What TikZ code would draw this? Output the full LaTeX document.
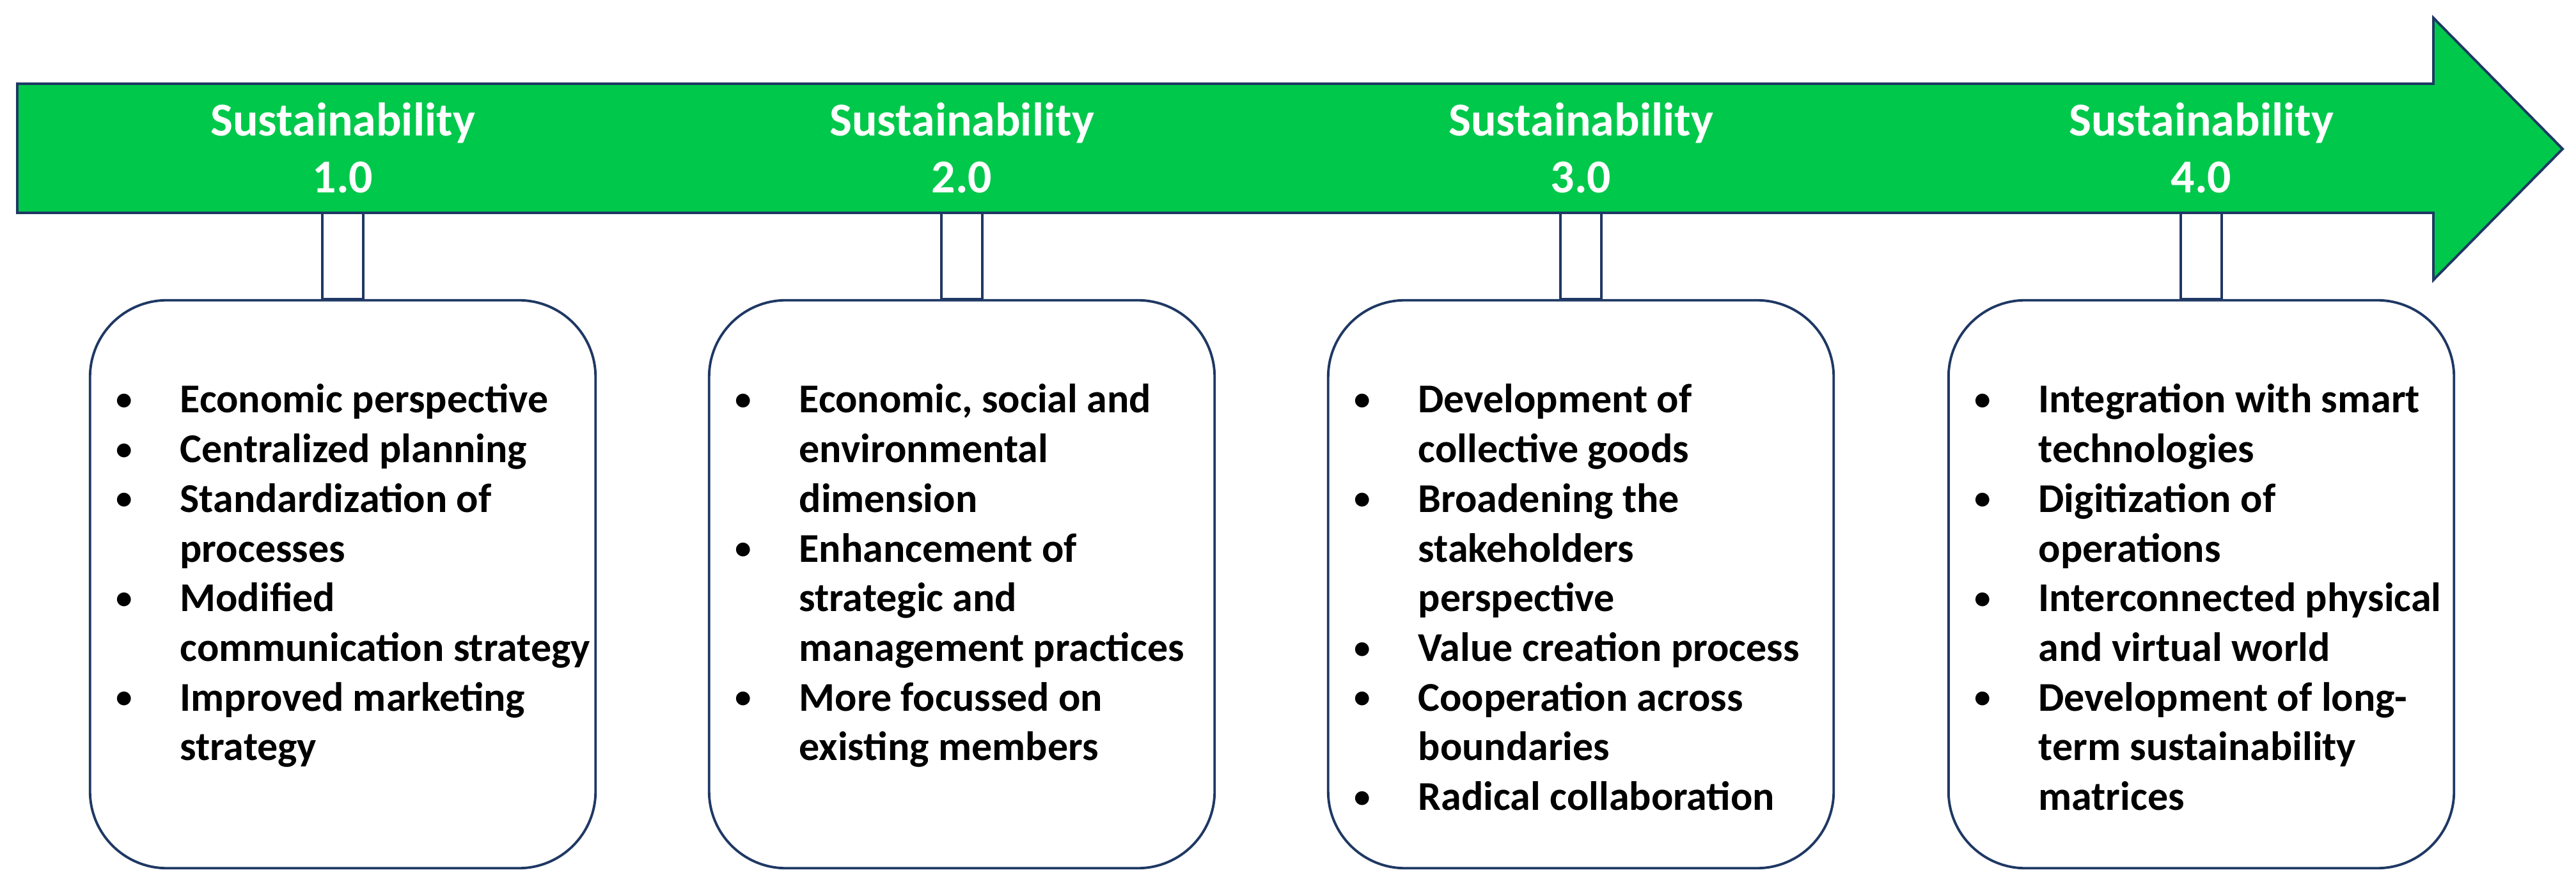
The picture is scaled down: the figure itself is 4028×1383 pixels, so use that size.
\documentclass[tikz,border=0pt]{standalone}
\usepackage{fontspec}
\setmainfont{Carlito}
\usetikzlibrary{positioning}

\definecolor{arrowgreen}{RGB}{0,200,75}
\definecolor{navy}{RGB}{31,56,100}

\newcommand{\bitem}[1]{\raisebox{0.07em}{\scalebox{0.8}{\textbullet}} & #1\\}
\newcommand{\bcont}[1]{& #1\\}

\begin{document}
\begin{tikzpicture}[x=0.01cm, y=-0.01cm,
	title/.style={anchor=base, inner sep=0pt, text=white, font=\fontsize{21pt}{25.3pt}\selectfont\bfseries},
	card/.style={rectangle, draw=navy, line width=1.1pt, fill=white, rounded corners=1.2cm, minimum width=7.9cm, minimum height=8.88cm},
	stem/.style={draw=navy, line width=1.1pt, fill=white},
	list/.style={anchor=base west, inner sep=0pt, font=\fontsize{18.2pt}{22.1pt}\selectfont\bfseries}]

\useasboundingbox (0,0) rectangle (4028,1383);

%% the time arrow
\draw [draw=navy, line width=1.1pt, fill=arrowgreen] (27,131) -- (3805,131) -- (3805,28) -- (4007,233) -- (3805,438) -- (3805,333) -- (27,333) -- cycle;
\coordinate (shaft) at (0,333);

\node at (536,213) [title] (t1) {\begin{tabular}[t]{@{}c@{}}Sustainability\\1.0\end{tabular}};
\node at (1504,213) [title] (t2) {\begin{tabular}[t]{@{}c@{}}Sustainability\\2.0\end{tabular}};
\node at (2472,213) [title] (t3) {\begin{tabular}[t]{@{}c@{}}Sustainability\\3.0\end{tabular}};
\node at (3442,213) [title] (t4) {\begin{tabular}[t]{@{}c@{}}Sustainability\\4.0\end{tabular}};

%% boxes below the arrow
\node at (536,914) [card] (c1) {};
\node at (1504,914) [card] (c2) {};
\node at (2472,914) [card] (c3) {};
\node at (3442,914) [card] (c4) {};

\draw [stem] ([xshift=-0.32cm]c1.north) rectangle ([xshift=0.32cm]t1 |- shaft);
\draw [stem] ([xshift=-0.32cm]c2.north) rectangle ([xshift=0.32cm]t2 |- shaft);
\draw [stem] ([xshift=-0.32cm]c3.north) rectangle ([xshift=0.32cm]t3 |- shaft);
\draw [stem] ([xshift=-0.32cm]c4.north) rectangle ([xshift=0.32cm]t4 |- shaft);

\node at ([xshift=0.42cm, yshift=-1.78cm]c1.north west) [list] (l1) {\begin{tabular}[t]{@{}p{1.0cm}@{}l@{}}
	\bitem{Economic perspective}
	\bitem{Centralized planning}
	\bitem{Standardization of}
	\bcont{processes}
	\bitem{Modified}
	\bcont{communication strategy}
	\bitem{Improved marketing}
	\bcont{strategy}
\end{tabular}};

\node at ([xshift=0.42cm, yshift=-1.78cm]c2.north west) [list] (l2) {\begin{tabular}[t]{@{}p{1.0cm}@{}l@{}}
	\bitem{Economic, social and}
	\bcont{environmental}
	\bcont{dimension}
	\bitem{Enhancement of}
	\bcont{strategic and}
	\bcont{management practices}
	\bitem{More focussed on}
	\bcont{existing members}
\end{tabular}};

\node at ([xshift=0.42cm, yshift=-1.78cm]c3.north west) [list] (l3) {\begin{tabular}[t]{@{}p{1.0cm}@{}l@{}}
	\bitem{Development of}
	\bcont{collective goods}
	\bitem{Broadening the}
	\bcont{stakeholders}
	\bcont{perspective}
	\bitem{Value creation process}
	\bitem{Cooperation across}
	\bcont{boundaries}
	\bitem{Radical collaboration}
\end{tabular}};

\node at ([xshift=0.42cm, yshift=-1.78cm]c4.north west) [list] (l4) {\begin{tabular}[t]{@{}p{1.0cm}@{}l@{}}
	\bitem{Integration with smart}
	\bcont{technologies}
	\bitem{Digitization of}
	\bcont{operations}
	\bitem{Interconnected physical}
	\bcont{and virtual world}
	\bitem{Development of long-}
	\bcont{term sustainability}
	\bcont{matrices}
\end{tabular}};

\end{tikzpicture}
\end{document}
